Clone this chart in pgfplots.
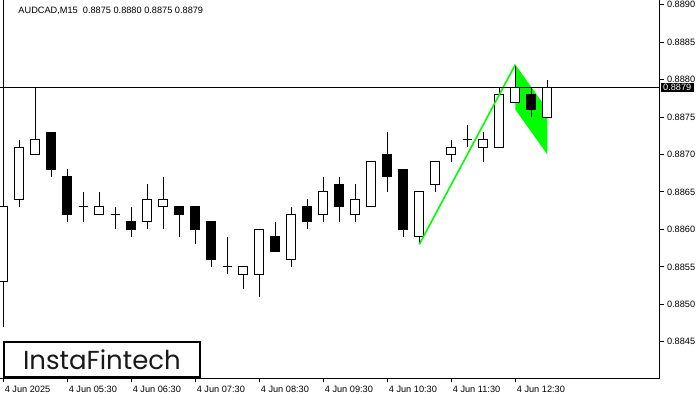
\documentclass[border=0pt]{standalone}
\usepackage{fontspec}
\setmainfont{Liberation Sans}
\newfontfamily\logofont{Poppins}
\usepackage{pgfplots}
\usepackage{pgfplotstable}
\pgfplotsset{compat=1.18}
\definecolor{flaggreen}{RGB}{0,255,0}

\pgfplotstableread{
k O H L C F
0 0.8853 0.8892 0.8847 0.8863 white
1 0.8864 0.8872 0.8863 0.8871 white
2 0.8870 0.8879 0.8870 0.8872 white
3 0.8873 0.8873 0.8867 0.8868 black
4 0.8867 0.8868 0.8861 0.8862 black
5 0.8863 0.8865 0.8861 0.8863 white
6 0.8862 0.8865 0.8862 0.8863 white
7 0.8862 0.8863 0.8860 0.8862 white
8 0.8861 0.8863 0.8859 0.8860 black
9 0.8861 0.8866 0.8860 0.8864 white
10 0.8863 0.8867 0.8860 0.8864 white
11 0.8863 0.8863 0.8859 0.8862 black
12 0.8863 0.8863 0.8858 0.8860 black
13 0.8861 0.8861 0.8855 0.8856 black
14 0.8855 0.8859 0.8854 0.8855 white
15 0.8854 0.8855 0.8852 0.8855 white
16 0.8854 0.8860 0.8851 0.8860 white
17 0.8859 0.8861 0.8857 0.8857 black
18 0.8856 0.8863 0.8855 0.8862 white
19 0.8863 0.8864 0.8860 0.8861 black
20 0.8862 0.8867 0.8861 0.8865 white
21 0.8866 0.8867 0.8861 0.8863 black
22 0.8862 0.8866 0.8861 0.8864 white
23 0.8863 0.8869 0.8863 0.8869 white
24 0.8870 0.8873 0.8865 0.8867 black
25 0.8868 0.8868 0.8859 0.8860 black
26 0.8859 0.8865 0.8858 0.8865 white
27 0.8866 0.8869 0.8865 0.8869 white
28 0.8870 0.8872 0.8869 0.8871 white
29 0.8872 0.8874 0.8871 0.8872 white
30 0.8871 0.8873 0.8869 0.8872 white
31 0.8871 0.8879 0.8871 0.8878 white
32 0.8877 0.8882 0.8877 0.8879 white
33 0.8878 0.8879 0.8875 0.8876 black
34 0.8875 0.8880 0.8875 0.8879 white
}\candles

\pgfplotstableread{
x y
26 0.8858
32 0.8882
}\pole

\pgfplotstableread{
x y
32 0.8882
34 0.8876
34 0.8870
32 0.8876
}\flag

\begin{document}
\begin{tikzpicture}
\path[use as bounding box] (0bp,0bp) rectangle (700bp,400bp);
\begin{axis}[
  at={(0bp,21.5bp)}, anchor=south west,
  scale only axis, width=659.5bp, height=378.5bp,
  xmin=-0.206, xmax=41.01, ymin=0.884009, ymax=0.889063,
  axis x line*=bottom, axis y line*=right,
  axis line style={black, line width=1bp},
  tick align=outside, major tick length=4bp,
  tick style={black, line width=1bp},
  xtick={0,4,8,12,16,20,24,28,32},
  xticklabels={4 Jun 2025,4 Jun 05:30,4 Jun 06:30,4 Jun 07:30,4 Jun 08:30,4 Jun 09:30,4 Jun 10:30,4 Jun 11:30,4 Jun 12:30},
  ytick={0.8845,0.885,0.8855,0.886,0.8865,0.887,0.8875,0.888,0.8885,0.889},
  scaled y ticks=false,
  yticklabel style={/pgf/number format/fixed, /pgf/number format/fixed zerofill, /pgf/number format/precision=4, anchor=west},
  /pgf/number format/assume math mode=true,
  ticklabel style={font=\fontsize{9.2bp}{11bp}\selectfont, text=black},
  xticklabel style={anchor=north west, xshift=-2bp},
]
\addplot[draw=none, fill=flaggreen] table[x=x, y=y] {\flag} -- cycle;
\pgfplotsinvokeforeach{0,...,34}{
  \pgfplotstablegetelem{#1}{O}\of\candles\let\vO\pgfplotsretval
  \pgfplotstablegetelem{#1}{H}\of\candles\let\vH\pgfplotsretval
  \pgfplotstablegetelem{#1}{L}\of\candles\let\vL\pgfplotsretval
  \pgfplotstablegetelem{#1}{C}\of\candles\let\vC\pgfplotsretval
  \pgfplotstablegetelem{#1}{F}\of\candles\let\vF\pgfplotsretval
  \pgfmathsetmacro\xa{#1-0.28}
  \pgfmathsetmacro\xb{#1+0.28}
  \edef\tmp{
    \noexpand\addplot[black, line width=1bp] coordinates {(#1,\vL) (#1,\vH)};
    \noexpand\addplot[draw=black, fill=\vF, line width=1bp] coordinates {(\xa,\vO) (\xb,\vO) (\xb,\vC) (\xa,\vC)} -- cycle;
  }\tmp
}
\addplot[flaggreen, line width=1.6bp] table[x=x, y=y] {\pole};
\addplot[black, line width=1bp] coordinates {(-0.5,0.8879) (41.5,0.8879)};
\coordinate (bid) at (axis cs:41.01,0.8879);
\end{axis}
\node[anchor=west, fill=black, text=white, inner xsep=2.5bp, inner ysep=1.2bp, font=\fontsize{9.2bp}{11bp}\selectfont] at ([xshift=1bp]bid) {0.8879};
\node[anchor=base west, inner sep=0, font=\fontsize{9.2bp}{11bp}\selectfont] at (18.3bp,386bp) {AUDCAD,M15\ \ 0.8875 0.8880 0.8875 0.8879};
\draw[black, line width=2bp, fill=white] (3.7bp,23bp) rectangle (200.3bp,58bp);
\node[anchor=base, inner sep=0, text=black!90, font=\logofont\fontsize{26bp}{30bp}\selectfont] at (101.9bp,30.7bp) {InstaFintech};
\end{tikzpicture}
\end{document}
